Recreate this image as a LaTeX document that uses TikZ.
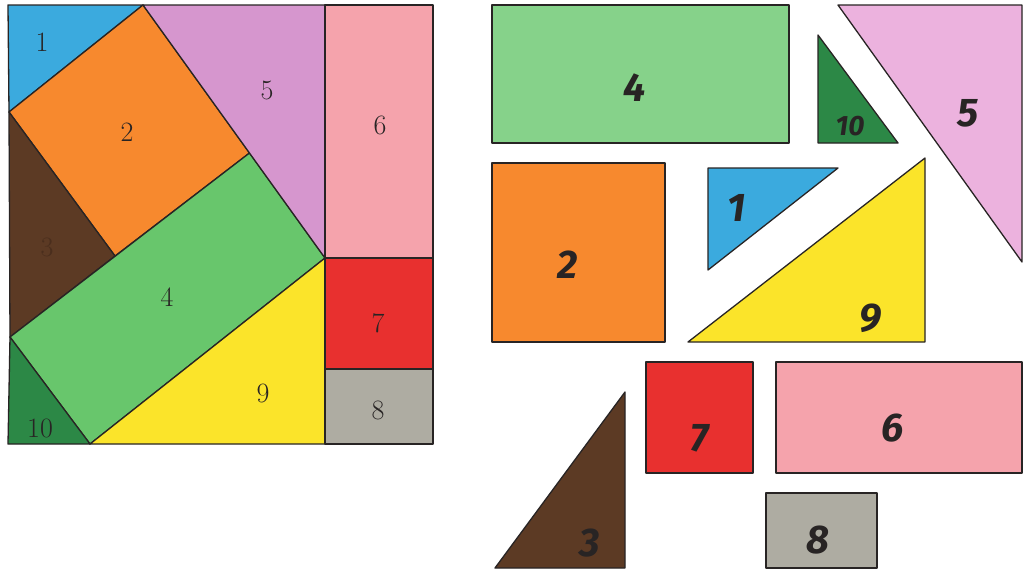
\documentclass[tikz,border=0pt]{standalone}
\usepackage{fontspec}
\newfontfamily\hand{Fira Sans}
\definecolor{cBlue}{RGB}{59,170,222}
\definecolor{cOrange}{RGB}{247,137,46}
\definecolor{cBrown}{RGB}{92,58,36}
\definecolor{cGreen}{RGB}{104,198,108}
\definecolor{cGreenR}{RGB}{134,210,138}
\definecolor{cViolet}{RGB}{214,150,206}
\definecolor{cVioletR}{RGB}{236,178,222}
\definecolor{cPink}{RGB}{245,163,172}
\definecolor{cRed}{RGB}{232,48,47}
\definecolor{cGray}{RGB}{174,172,162}
\definecolor{cYellow}{RGB}{251,228,42}
\definecolor{cDark}{RGB}{44,136,70}
\definecolor{cInk}{RGB}{40,36,36}
\begin{document}
\begin{tikzpicture}[x=1pt,y=-1pt,
  piece/.style={draw=cInk,line width=1.3pt,line join=round},
  lab/.style={text=cInk,font=\fontsize{28}{28}\selectfont,inner sep=0pt},
  hlab/.style={text=cInk,font=\hand\bfseries\itshape\fontsize{40}{40}\selectfont,inner sep=0pt}]
\useasboundingbox[fill=white] (0,0) rectangle (1026,574);
% ---------- left square ----------
\coordinate (A) at (8,5);
\coordinate (B) at (143,5);
\coordinate (C) at (325,5);
\coordinate (D) at (433,5);
\coordinate (E) at (9,112);
\coordinate (F) at (249.5,153);
\coordinate (G) at (115,256);
\coordinate (H) at (325,258);
\coordinate (I) at (433,258);
\coordinate (J) at (10,337);
\coordinate (K) at (90,444);
\coordinate (L) at (8,444);
\coordinate (M) at (325,369);
\coordinate (N) at (433,369);
\coordinate (O) at (325,444);
\coordinate (P) at (433,444);
\filldraw[piece,fill=cBlue] (A) -- (B) -- (E) -- cycle;
\filldraw[piece,fill=cOrange] (B) -- (F) -- (G) -- (E) -- cycle;
\filldraw[piece,fill=cBrown] (E) -- (G) -- (J) -- cycle;
\filldraw[piece,fill=cGreen] (F) -- (H) -- (K) -- (J) -- cycle;
\filldraw[piece,fill=cViolet] (B) -- (C) -- (H) -- cycle;
\filldraw[piece,fill=cDark] (J) -- (K) -- (L) -- cycle;
\filldraw[piece,fill=cYellow] (K) -- (H) -- (O) -- cycle;
\filldraw[piece,fill=cPink] (C) -- (D) -- (I) -- (H) -- cycle;
\filldraw[piece,fill=cRed] (H) -- (I) -- (N) -- (M) -- cycle;
\filldraw[piece,fill=cGray] (M) -- (N) -- (P) -- (O) -- cycle;
\node[lab] (l1) at (42,42) {\oldstylenums{1}};
\node[lab] (l2) at (127,132) {\oldstylenums{2}};
\node[lab,text=cBrown!80!black] (l3) at (47,247) {\oldstylenums{3}};
\node[lab] (l4) at (167,297) {\oldstylenums{4}};
\node[lab] (l5) at (267,90) {\oldstylenums{5}};
\node[lab] (l6) at (380,125) {\oldstylenums{6}};
\node[lab] (l7) at (378,323) {\oldstylenums{7}};
\node[lab] (l8) at (378,410) {\oldstylenums{8}};
\node[lab] (l9) at (263,393) {\oldstylenums{9}};
\node[lab] (l10) at (40,428) {\oldstylenums{10}};
% ---------- loose pieces ----------
\filldraw[piece,fill=cGreenR] (492,5) rectangle (789,143);
\node[hlab] (r4) at (635,88) {4};
\filldraw[piece,fill=cDark] (818,35) -- (898,143) -- (818,143) -- cycle;
\node[hlab,font=\hand\bfseries\itshape\fontsize{28}{28}\selectfont] (r10) at (850,126) {10};
\filldraw[piece,fill=cVioletR] (838,5) -- (1022,5) -- (1022,262) -- cycle;
\node[hlab] (r5) at (968,113) {5};
\filldraw[piece,fill=cOrange] (492,163) rectangle (665,342);
\node[hlab] (r2) at (568,265) {2};
\filldraw[piece,fill=cBlue] (708,168) -- (838,168) -- (708,270) -- cycle;
\node[hlab] (r1) at (737,208) {1};
\filldraw[piece,fill=cYellow] (688,342) -- (925,158) -- (925,342) -- cycle;
\node[hlab] (r9) at (870,318) {9};
\filldraw[piece,fill=cRed] (646,362) rectangle (753,473);
\node[hlab] (r7) at (700,438) {7};
\filldraw[piece,fill=cPink] (776,362) rectangle (1022,473);
\node[hlab] (r6) at (893,428) {6};
\filldraw[piece,fill=cBrown] (495,568) -- (625,392) -- (625,568) -- cycle;
\node[hlab] (r3) at (590,543) {3};
\filldraw[piece,fill=cGray] (766,493) rectangle (877,568);
\node[hlab] (r8) at (818,540) {8};
\end{tikzpicture}
\end{document}
